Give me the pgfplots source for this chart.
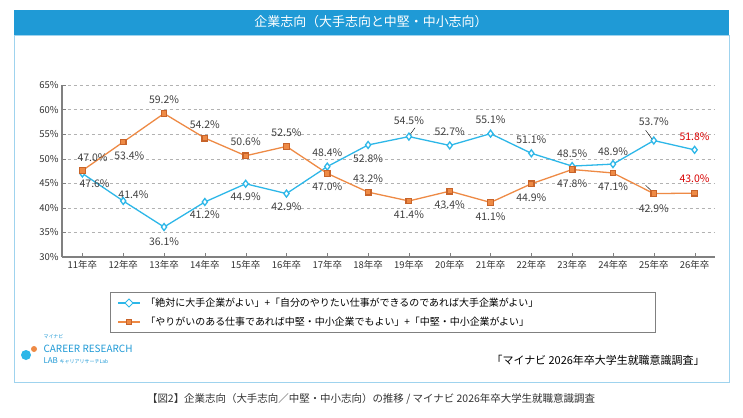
\documentclass[border=0pt]{standalone}
\usepackage{pgfplots}
\pgfplotsset{compat=1.18}
\usepackage{fontspec}
\setmainfont{Noto Sans CJK JP}
\definecolor{tb}{HTML}{1F9AD6}
\definecolor{bl}{HTML}{2DB7E8}
\definecolor{orf}{HTML}{EE8A45}
\definecolor{ore}{HTML}{C8642A}
\definecolor{lb}{HTML}{9FD3EE}
\begin{document}
\begin{tikzpicture}[x=1bp,y=1bp]
\path (0,0) rectangle (743,417);
\fill[white] (0,0) rectangle (743,417);
\draw[lb,line width=1pt] (14,35) rectangle (729,382);
\fill[tb] (14,382) rectangle (729,407);
\node[white,font=\fontsize{13}{14}\selectfont] at (371,395) {企業志向（大手志向と中堅・中小志向）};
\begin{axis}[at={(62bp,160bp)},anchor=south west,scale only axis,width=653bp,height=172bp,
 xmin=-0.5,xmax=15.5,ymin=30,ymax=65,
 xtick={0,...,15},xticklabels={11年卒,12年卒,13年卒,14年卒,15年卒,16年卒,17年卒,18年卒,19年卒,20年卒,21年卒,22年卒,23年卒,24年卒,25年卒,26年卒},
 ytick={30,35,...,65},yticklabel={\pgfmathprintnumber{\tick}\%},
 /pgf/number format/assume math mode=true,
 ymajorgrids,grid style={gray!60,dashed},
 axis line style={gray,line width=1.2pt},axis x line*=bottom,axis y line*=left,
 tick style={gray},xtick pos=bottom,ytick pos=left,
 tick label style={font=\fontsize{9.5}{10}\selectfont,text=black!80},
 clip=false,nodes={font=\fontsize{10.5}{11}\selectfont,text=black!75}]
\addplot[bl,line width=1.3pt,mark=diamond*,mark size=3.5pt,mark options={fill=white,draw=bl}] coordinates {
(0,47.0)(1,41.4)(2,36.1)(3,41.2)(4,44.9)(5,42.9)(6,48.4)(7,52.8)(8,54.5)(9,52.7)(10,55.1)(11,51.1)(12,48.5)(13,48.9)(14,53.7)(15,51.8)};
\addplot[orf,line width=1.3pt,mark=square*,mark size=2.8pt,mark options={fill=orf,draw=ore}] coordinates {
(0,47.6)(1,53.4)(2,59.2)(3,54.2)(4,50.6)(5,52.5)(6,47.0)(7,43.2)(8,41.4)(9,43.4)(10,41.1)(11,44.9)(12,47.8)(13,47.1)(14,42.9)(15,43.0)};
\node at (axis cs:0.25,50.3) {47.0\%};
\node at (axis cs:0.3,45.0) {47.6\%};
\node at (axis cs:1.25,42.6) {41.4\%};
\node at (axis cs:2,33.1) {36.1\%};
\node at (axis cs:3,38.7) {41.2\%};
\node at (axis cs:4,42.2) {44.9\%};
\node at (axis cs:5,40.3) {42.9\%};
\node at (axis cs:6,51.2) {48.4\%};
\node at (axis cs:7,50.0) {52.8\%};
\node at (axis cs:8,57.7) {54.5\%};
\node at (axis cs:9,55.5) {52.7\%};
\node at (axis cs:10,57.9) {55.1\%};
\node at (axis cs:11,53.9) {51.1\%};
\node at (axis cs:12,51.1) {48.5\%};
\node at (axis cs:13,51.4) {48.9\%};
\node at (axis cs:14,57.5) {53.7\%};
\node[text=red!85!black] at (axis cs:15,54.5) {51.8\%};
\node at (axis cs:1.15,50.6) {53.4\%};
\node at (axis cs:2,62.1) {59.2\%};
\node at (axis cs:3,57.0) {54.2\%};
\node at (axis cs:4,53.5) {50.6\%};
\node at (axis cs:5,55.4) {52.5\%};
\node at (axis cs:6,44.3) {47.0\%};
\node at (axis cs:7,46.0) {43.2\%};
\node at (axis cs:8,38.6) {41.4\%};
\node at (axis cs:9,40.6) {43.4\%};
\node at (axis cs:10,38.3) {41.1\%};
\node at (axis cs:11,42.1) {44.9\%};
\node at (axis cs:12,45.0) {47.8\%};
\node at (axis cs:13,44.4) {47.1\%};
\node at (axis cs:14,39.9) {42.9\%};
\node[text=red!85!black] at (axis cs:15,45.9) {43.0\%};
\draw[black] (axis cs:8,54.6) -- (axis cs:8.15,56.3);
\draw[black] (axis cs:14,53.5) -- (axis cs:13.8,55.8);
\draw[black] (axis cs:14,43.0) -- (axis cs:13.8,44.6);
\end{axis}
\draw[gray,line width=0.8pt] (110,85) rectangle (655,125);
\draw[bl,line width=1.3pt] (118,114) -- (140,114);
\draw[bl,fill=white,line width=1pt] (125,114) -- (129,118) -- (133,114) -- (129,110) -- cycle;
\node[anchor=west,font=\fontsize{10}{11}\selectfont] at (142,114) {「絶対に大手企業がよい」+「自分のやりたい仕事ができるのであれば大手企業がよい」};
\draw[orf,line width=1.3pt] (118,95) -- (140,95);
\node[draw=ore,fill=orf,minimum size=5pt,inner sep=0pt] at (129,95) {};
\node[anchor=west,font=\fontsize{10}{11}\selectfont] at (142,95) {「やりがいのある仕事であれば中堅・中小企業でもよい」+「中堅・中小企業がよい」};
\node[anchor=east,font=\fontsize{11}{12}\selectfont] at (708,57) {「マイナビ 2026年卒大学生就職意識調査」};
\fill[bl] (26,62) circle (5);
\fill[orf] (34,68) circle (3);
\node[anchor=west,font=\fontsize{5}{6}\selectfont,text=tb] at (40,80) {マイナビ};
\node[anchor=west,font=\fontsize{10}{11}\selectfont,text=tb] at (40,68) {CAREER RESEARCH};
\node[anchor=west,font=\fontsize{8}{9}\selectfont,text=tb] at (40,56) {LAB {\fontsize{5}{6}\selectfont キャリアリサーチLab}};
\node[font=\fontsize{10.5}{11}\selectfont,text=black!80] at (371,18) {【図2】企業志向（大手志向／中堅・中小志向）の推移 / マイナビ 2026年卒大学生就職意識調査};
\end{tikzpicture}
\end{document}
